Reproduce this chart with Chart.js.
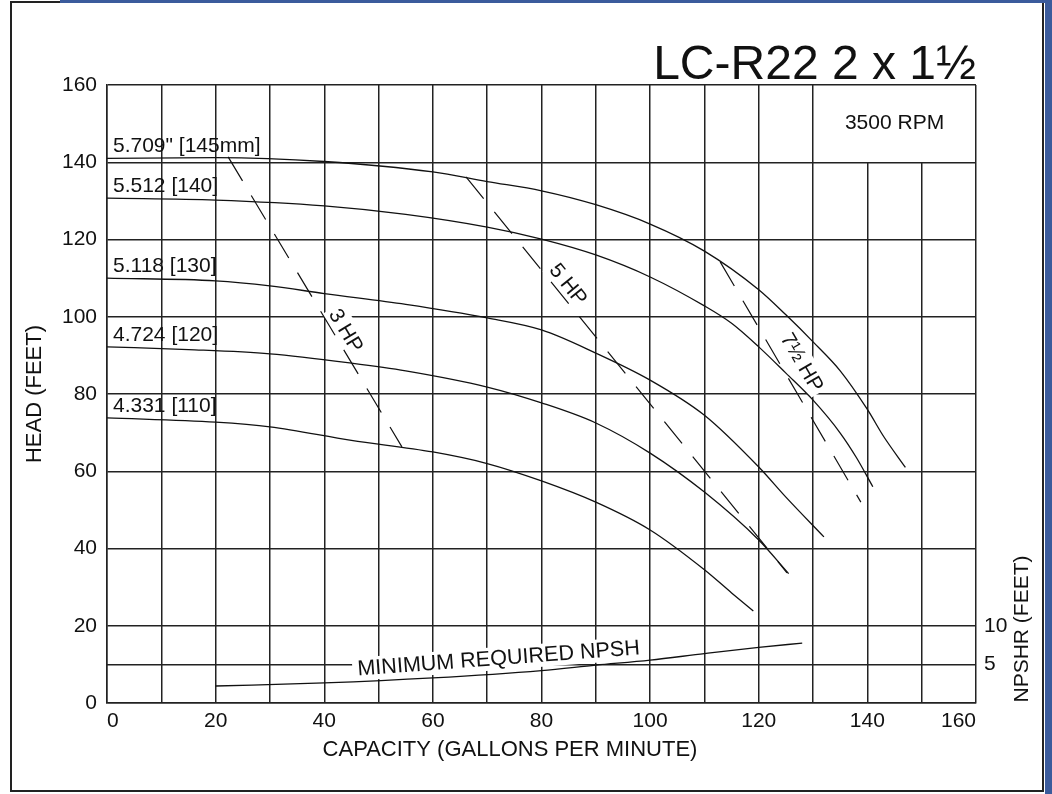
<!DOCTYPE html>
<html>
<head>
<meta charset="utf-8">
<script src="https://cdn.jsdelivr.net/npm/chart.js@4.4.1/dist/chart.umd.min.js"></script>
<style>
  html, body { margin: 0; padding: 0; background: #fff; }
  canvas { display: block; }
</style>
</head>
<body>
<canvas id="pump" width="1052" height="794"></canvas>
<script>
var chartTitle = 'LC-R22 2 x 1½';
var speedLabel = '3500 RPM';
var npshLabel = 'MINIMUM REQUIRED NPSH';
var xTitle = 'CAPACITY (GALLONS PER MINUTE)';
var yTitle = 'HEAD (FEET)';
var y2Title = 'NPSHR (FEET)';

// impeller curves, capacity (gpm) / head (ft)
var flow145 = [0, 20, 40, 60, 70, 80, 90, 100, 110, 120, 125, 130, 135, 140, 143, 147];
var head145 = [141, 141.2, 140.2, 137.5, 135, 132.6, 129, 124, 117, 107, 100.5, 93.5, 86, 76, 69, 61];

var flow140 = [0, 20, 40, 55, 70, 80, 90, 100, 110, 115, 120, 125, 130, 135, 138, 141];
var head140 = [130.7, 130.2, 128.7, 126.5, 123.2, 120.1, 116, 110.3, 102.8, 98.3, 92.2, 85.4, 78.4, 69.9, 63.5, 56];

var flow130 = [0, 20, 30, 40, 55, 70, 80, 90, 100, 110, 120, 125, 132];
var head130 = [110, 109.3, 108, 106, 103.2, 99.7, 96.6, 90.6, 83.6, 74.5, 61.1, 53.3, 43];

var flow120 = [0, 15, 30, 45, 55, 70, 80, 90, 100, 110, 120, 125.5];
var head120 = [92.2, 91.5, 90.4, 88, 86, 81.8, 77.7, 72.5, 64.7, 54.6, 42.2, 33.5];

var flow110 = [0, 20, 30, 45, 60, 70, 80, 90, 100, 110, 115, 119];
var head110 = [73.8, 72.7, 71.5, 68, 65, 62, 57.5, 52, 44.8, 34.5, 28.5, 23.8];

var impellerLabels = ['5.709" [145mm]', '5.512 [140]', '5.118 [130]', '4.724 [120]', '4.331 [110]'];

// power limit lines
var hp3Flow = [22.3, 54.3];
var hp3Head = [141.4, 66.3];
var hp5Flow = [66.1, 125.2];
var hp5Head = [136.2, 33.7];
var hp75Flow = [112.9, 138.8];
var hp75Head = [114.2, 52];
var hpLabels = ['3 HP', '5 HP', '7½ HP'];

// NPSHR (ft, right axis)
var npshFlow = [20, 40, 60, 80, 90, 100, 110, 120, 128];
var npshFeet = [2.2, 2.6, 3.25, 4.2, 4.9, 5.55, 6.4, 7.2, 7.75];

var xTicks = [0, 20, 40, 60, 80, 100, 120, 140, 160];
var y2Ticks = [5, 10];

var FONT = "'Liberation Sans', Arial, Helvetica, sans-serif";
var INK = '#111';
var GRID = '#222';

Chart.defaults.font.family = FONT;
Chart.defaults.color = INK;

function pts(xs, ys) {
  return xs.map(function(x, i) { return {x: x, y: ys[i]}; });
}

function curve(xs, ys) {
  return {
    data: pts(xs, ys),
    borderColor: INK,
    borderWidth: 1.3,
    pointRadius: 0,
    cubicInterpolationMode: 'monotone',
    fill: false
  };
}

function hpLine(xs, ys) {
  return {
    data: pts(xs, ys),
    borderColor: INK,
    borderWidth: 1.2,
    borderDash: [28, 17],
    pointRadius: 0,
    tension: 0,
    fill: false
  };
}

function alignPx(px, w) {
  return Math.round(px - w / 2) + w / 2;
}

function textAlong(c, text, p0, p1, t, off) {
  var dx = p1.x - p0.x, dy = p1.y - p0.y;
  var len = Math.sqrt(dx * dx + dy * dy);
  var ux = dx / len, uy = dy / len;
  var cx = p0.x + dx * t + uy * off;
  var cy = p0.y + dy * t - ux * off;
  c.save();
  c.translate(cx, cy);
  c.rotate(Math.atan2(dy, dx));
  var w = c.measureText(text).width;
  c.fillStyle = '#fff';
  c.fillRect(-w / 2 - 3, -12, w + 6, 24);
  c.fillStyle = INK;
  c.textAlign = 'center';
  c.textBaseline = 'middle';
  c.fillText(text, 0, 1);
  c.restore();
}

var pumpDecor = {
  id: 'pumpDecor',
  beforeDraw: function(chart) {
    var c = chart.ctx;
    c.save();
    c.fillStyle = '#fff';
    c.fillRect(0, 0, chart.width, chart.height);
    c.strokeStyle = '#222';
    c.lineWidth = 2;
    c.strokeRect(11, 2, 1032, 789);
    c.fillStyle = '#3b5b9c';
    c.fillRect(60, 0, 992, 3);
    c.fillRect(1045, 0, 7, 794);
    c.fillStyle = INK;
    c.font = '48px ' + FONT;
    c.textAlign = 'right';
    c.textBaseline = 'alphabetic';
    c.fillText(chartTitle, chart.chartArea.right, 79);
    c.restore();
  },
  beforeDatasetsDraw: function(chart) {
    var c = chart.ctx, xs = chart.scales.x, ys = chart.scales.y, y2 = chart.scales.y2;
    var a = chart.chartArea;
    c.save();

    // grid lines that stop under the speed box
    c.strokeStyle = GRID;
    c.lineWidth = 1.5;
    [140, 150].forEach(function(v) {
      var px = alignPx(xs.getPixelForValue(v), 1.5);
      c.beginPath();
      c.moveTo(px, ys.getPixelForValue(140));
      c.lineTo(px, a.bottom);
      c.stroke();
    });

    c.fillStyle = INK;
    c.font = '21px ' + FONT;
    c.textAlign = 'center';
    c.textBaseline = 'middle';
    c.fillText(speedLabel, xs.getPixelForValue(145), ys.getPixelForValue(150));

    // impeller labels above the start of each curve
    var starts = [head145, head140, head130, head120, head110];
    c.textAlign = 'left';
    c.textBaseline = 'alphabetic';
    impellerLabels.forEach(function(txt, i) {
      c.fillText(txt, xs.getPixelForValue(0) + 6, ys.getPixelForValue(starts[i][0]) - 6);
    });

    // power labels along the dashed lines
    c.font = '21px ' + FONT;
    var lines = [[hp3Flow, hp3Head, 0.62, 12], [hp5Flow, hp5Head, 0.29, 12], [hp75Flow, hp75Head, 0.46, 20]];
    lines.forEach(function(l, i) {
      var p0 = {x: xs.getPixelForValue(l[0][0]), y: ys.getPixelForValue(l[1][0])};
      var p1 = {x: xs.getPixelForValue(l[0][1]), y: ys.getPixelForValue(l[1][1])};
      textAlong(c, hpLabels[i], p0, p1, l[2], l[3]);
    });

    // NPSH label, slightly tilted
    c.save();
    c.font = '21.6px ' + FONT;
    c.translate(xs.getPixelForValue(46.2), y2.getPixelForValue(3.55));
    c.rotate(-4.3 * Math.PI / 180);
    var w = c.measureText(npshLabel).width;
    c.fillStyle = '#fff';
    c.fillRect(-5, -18, w + 10, 23);
    c.fillStyle = INK;
    c.textAlign = 'left';
    c.textBaseline = 'alphabetic';
    c.fillText(npshLabel, 0, 0);
    c.restore();

    c.restore();
  },
  afterDraw: function(chart) {
    var c = chart.ctx;
    c.save();
    c.fillStyle = INK;
    c.font = '22px ' + FONT;
    c.textAlign = 'center';
    c.textBaseline = 'middle';
    c.fillText(xTitle, 510, 750);
    c.font = '21px ' + FONT;
    c.translate(1022, 629);
    c.rotate(-Math.PI / 2);
    c.fillText(y2Title, 0, 0);
    c.restore();
  }
};

new Chart(document.getElementById('pump'), {
  type: 'line',
  data: {
    datasets: [
      curve(flow145, head145),
      curve(flow140, head140),
      curve(flow130, head130),
      curve(flow120, head120),
      curve(flow110, head110),
      hpLine(hp3Flow, hp3Head),
      hpLine(hp5Flow, hp5Head),
      hpLine(hp75Flow, hp75Head),
      Object.assign(curve(npshFlow, npshFeet), {yAxisID: 'y2'})
    ]
  },
  options: {
    responsive: false,
    animation: false,
    devicePixelRatio: 1,
    layout: { padding: { top: 85, left: 0, right: 0, bottom: 0 } },
    plugins: { legend: { display: false }, tooltip: { enabled: false } },
    events: [],
    scales: {
      x: {
        type: 'linear',
        min: 0,
        max: 160,
        afterFit: function(s) { s.height = 91; },
        afterBuildTicks: function(s) {
          s.ticks = [];
          for (var v = 0; v <= 160; v += 10) s.ticks.push({value: v});
        },
        ticks: {
          autoSkip: false,
          maxRotation: 0,
          align: 'inner',
          padding: 6,
          font: { size: 21 },
          color: INK,
          callback: function(v) { return xTicks.indexOf(v) >= 0 ? String(v) : ''; }
        },
        grid: {
          drawTicks: false,
          lineWidth: 1.5,
          color: function(ctx) {
            var v = ctx.tick && ctx.tick.value;
            return (v === 140 || v === 150) ? 'rgba(0,0,0,0)' : GRID;
          }
        },
        border: { display: true, color: GRID, width: 1.5 }
      },
      y: {
        min: 0,
        max: 160,
        afterFit: function(s) { s.width = 107; },
        ticks: {
          stepSize: 20,
          padding: 10,
          color: INK,
          font: { size: 21 }
        },
        grid: { drawTicks: false, lineWidth: 1.5, color: GRID },
        border: { display: true, color: GRID, width: 1.5 },
        title: {
          display: true,
          text: yTitle,
          font: { size: 22 },
          color: INK,
          padding: { top: 22, bottom: 0 }
        }
      },
      y2: {
        position: 'right',
        min: 0,
        max: 80,
        afterFit: function(s) { s.width = 76; },
        afterBuildTicks: function(s) {
          s.ticks = [];
          for (var v = 0; v <= 80; v += 5) s.ticks.push({value: v});
        },
        ticks: {
          autoSkip: false,
          padding: 8,
          color: INK,
          font: { size: 21 },
          callback: function(v) { return y2Ticks.indexOf(v) >= 0 ? String(v) : ''; }
        },
        grid: {
          drawTicks: false,
          lineWidth: 1.5,
          color: function(ctx) {
            return (ctx.tick && ctx.tick.value === 5) ? GRID : 'rgba(0,0,0,0)';
          }
        },
        border: { display: false }
      }
    }
  },
  plugins: [pumpDecor]
});
</script>
</body>
</html>
